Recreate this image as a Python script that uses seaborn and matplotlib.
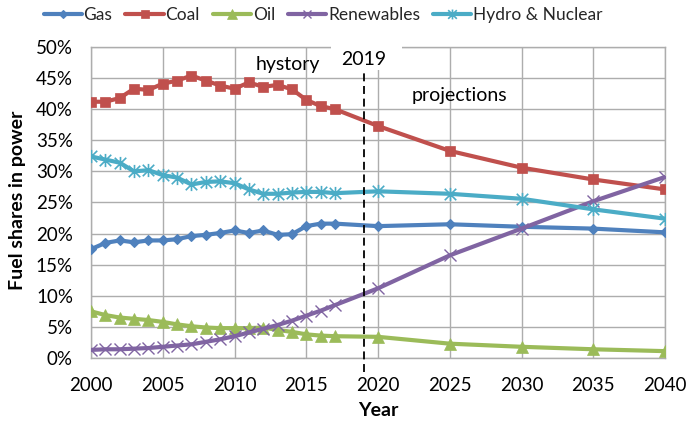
import matplotlib
matplotlib.use("Agg")
import matplotlib.pyplot as plt
from matplotlib.path import Path
from matplotlib.patches import Rectangle
from matplotlib.ticker import FuncFormatter, MultipleLocator
import seaborn as sns

# Fuel shares of power generation (%), history to 2017 and projections to 2040
years = [2000, 2001, 2002, 2003, 2004, 2005, 2006, 2007, 2008, 2009, 2010, 2011,
         2012, 2013, 2014, 2015, 2016, 2017, 2020, 2025, 2030, 2035, 2040]
gas = [17.5, 18.5, 18.9, 18.6, 18.9, 18.9, 19.1, 19.6, 19.8, 20.1, 20.5, 20.1,
       20.5, 19.8, 19.9, 21.2, 21.6, 21.6, 21.2, 21.5, 21.1, 20.8, 20.2]
coal = [41.2, 41.2, 41.8, 43.3, 43.1, 44.1, 44.6, 45.4, 44.6, 43.8, 43.3, 44.3,
        43.6, 43.9, 43.2, 41.5, 40.5, 40.0, 37.3, 33.3, 30.6, 28.7, 27.1]
oil = [7.5, 6.9, 6.5, 6.3, 6.1, 5.8, 5.4, 5.1, 4.9, 4.8, 4.8, 4.8,
       4.9, 4.5, 4.2, 3.8, 3.6, 3.5, 3.4, 2.3, 1.8, 1.4, 1.1]
renewables = [1.3, 1.4, 1.4, 1.5, 1.6, 1.8, 2.0, 2.2, 2.6, 3.0, 3.5, 4.1,
              4.7, 5.3, 6.0, 6.8, 7.6, 8.5, 11.2, 16.5, 20.8, 25.2, 29.1]
hydro_nuclear = [32.4, 31.9, 31.4, 30.0, 30.2, 29.4, 29.0, 27.9, 28.3, 28.4, 28.1, 27.1,
                 26.4, 26.4, 26.6, 26.7, 26.7, 26.5, 26.8, 26.4, 25.6, 23.9, 22.4]

series_names = ["Gas", "Coal", "Oil", "Renewables", "Hydro & Nuclear"]
split_year = 2019
x_ticks = [2000, 2005, 2010, 2015, 2020, 2025, 2030, 2035, 2040]

sns.set_theme(style="white")
plt.rcParams["font.family"] = ["Lato", "DejaVu Sans"]

# asterisk marker: an X with a vertical bar
star = Path([(-1, -1), (1, 1), (-1, 1), (1, -1), (0, -1.15), (0, 1.15)],
            [Path.MOVETO, Path.LINETO] * 3)

styles = {
    "Gas": dict(color="#4F81BD", marker="D", ms=5.6, mfc="#4F81BD", mew=0.8),
    "Coal": dict(color="#C0504D", marker="s", ms=6.8, mfc="#C0504D", mew=0.5),
    "Oil": dict(color="#9BBB59", marker="^", ms=8.8, mfc="#9BBB59", mew=0.5),
    "Renewables": dict(color="#8064A2", marker="x", ms=8.5, mfc="none", mew=1.0),
    "Hydro & Nuclear": dict(color="#4BACC6", marker=star, ms=9.5, mfc="none", mew=1.2),
}
values = {"Gas": gas, "Coal": coal, "Oil": oil, "Renewables": renewables,
          "Hydro & Nuclear": hydro_nuclear}

fig = plt.figure(figsize=(6.86, 4.22), dpi=100)
ax = fig.add_axes([0.1327, 0.1517, 0.8367, 0.7369])

for name in series_names:
    st = styles[name]
    sns.lineplot(x=years, y=values[name], ax=ax, label=name, color=st["color"],
                 marker=st["marker"], markersize=st["ms"], markerfacecolor=st["mfc"],
                 markeredgecolor=st["color"], markeredgewidth=st["mew"],
                 linewidth=3.0, zorder=3, legend=False)

ax.set_xlim(2000, 2040)
ax.set_ylim(0, 50)
ax.set_xticks(x_ticks)
ax.yaxis.set_major_locator(MultipleLocator(5))
ax.yaxis.set_major_formatter(FuncFormatter(lambda v, _: f"{v:.0f}%"))
ax.grid(True, color="#ADADAD", linewidth=1.0)
ax.set_axisbelow(True)
for sp in ax.spines.values():
    sp.set_color("#ADADAD")
    sp.set_linewidth(1.0)
ax.tick_params(axis="both", length=0, labelsize=13.5, colors="black")
ax.tick_params(axis="x", pad=13.5)
ax.tick_params(axis="y", pad=13)
ax.set_xlabel("")
ax.set_ylabel("")

# boundary between history and projections
ax.add_patch(Rectangle((2016.7, 46.3), 5.0, 6.5, facecolor="white", edgecolor="none",
                       clip_on=False, zorder=2.6))
ax.plot([split_year, split_year], [-2.3, 46.3], color="black", linewidth=1.3,
        linestyle=(0, (4.4, 2.6)), clip_on=False, zorder=4)
ax.text(split_year, 48.0, str(split_year), ha="center", va="center", fontsize=14,
        color="black", zorder=5)
ax.text(2013.7, 47.2, "hystory", ha="center", va="center", fontsize=14,
        color="black", zorder=5)
ax.text(2025.7, 42.2, "projections", ha="center", va="center", fontsize=14,
        color="black", zorder=5)

fig.text(18 / 686, 1 - 200 / 422, "Fuel shares in power", rotation=90, ha="center",
         va="center", fontsize=14, fontweight="bold", color="black")
fig.text(378 / 686, 1 - 410 / 422, "Year", ha="center", va="center", fontsize=14,
         fontweight="bold", color="black")

handles, labels = ax.get_legend_handles_labels()
fig.legend(handles, labels, loc="center", bbox_to_anchor=(323 / 686, 1 - 15 / 422),
           ncol=5, frameon=False, fontsize=12.5, handlelength=2.2, handletextpad=0.1,
           columnspacing=0.75, markerscale=0.75, borderpad=0, borderaxespad=0)

fig.savefig("out.png", dpi=100)
